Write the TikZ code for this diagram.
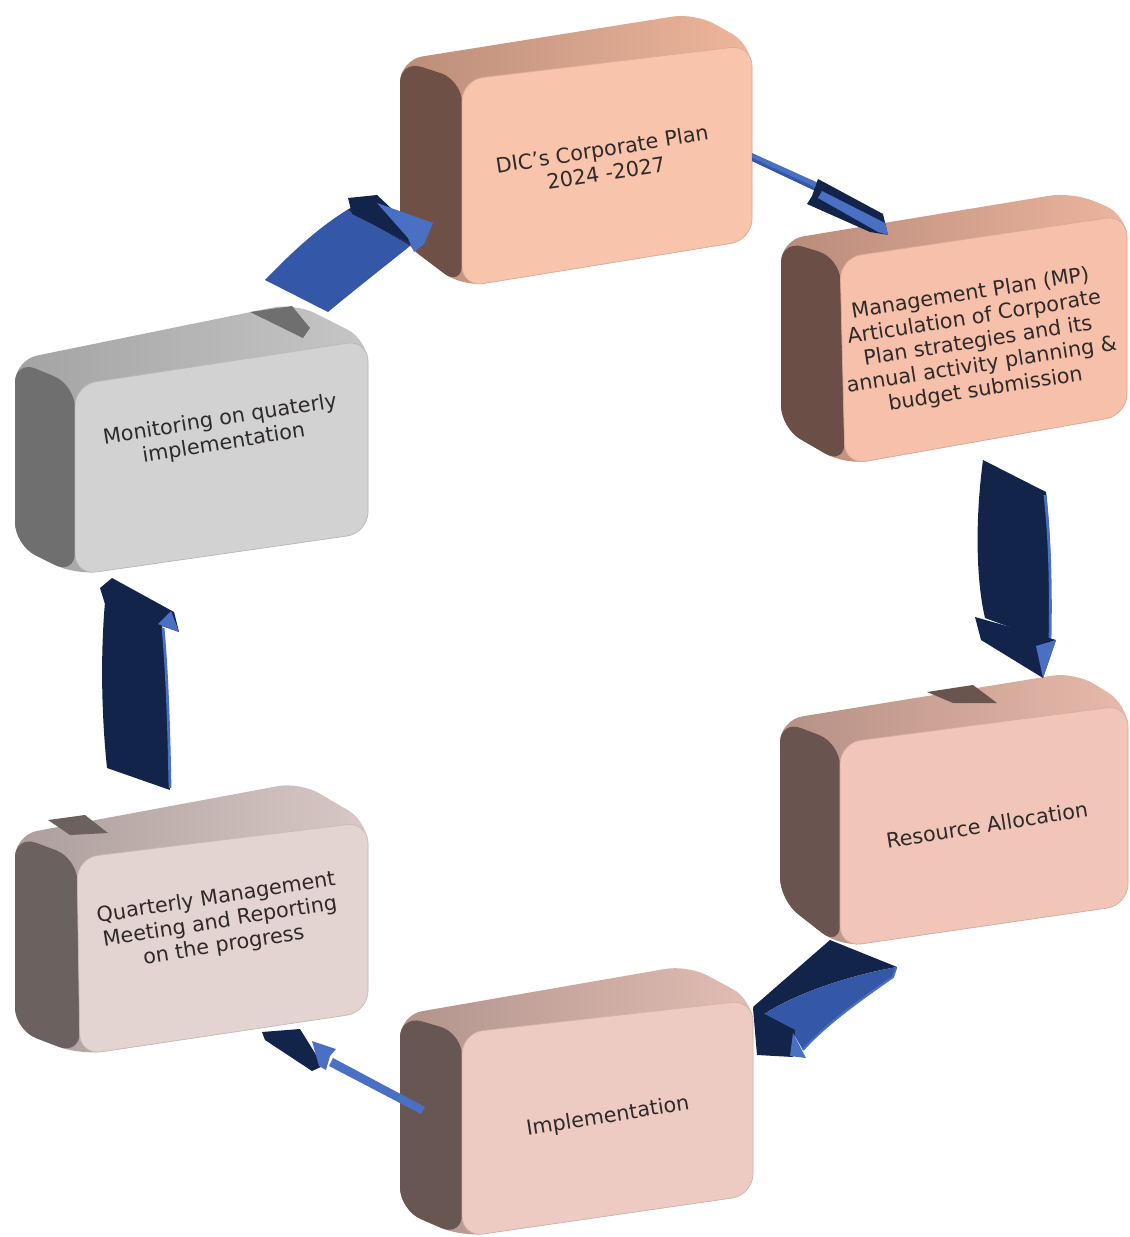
\documentclass[tikz,border=0pt]{standalone}
\usepackage{fontspec}
\setmainfont{DejaVu Sans}
\usetikzlibrary{calc}
\definecolor{navy}{HTML}{13244B}
\definecolor{midblue}{HTML}{3557A8}
\definecolor{lightblue}{HTML}{4A70C4}
\definecolor{txt}{HTML}{2E2A2A}
% box colours: front, top, side
\definecolor{corpF}{HTML}{F8C4AB}\definecolor{corpT}{HTML}{EEB69C}\definecolor{corpS}{HTML}{6E5047}
\definecolor{mpF}{HTML}{F6C0AA}\definecolor{mpT}{HTML}{ECB49E}\definecolor{mpS}{HTML}{6B4E46}
\definecolor{resF}{HTML}{F1C5B7}\definecolor{resT}{HTML}{E8B9AA}\definecolor{resS}{HTML}{6A5450}
\definecolor{impF}{HTML}{EDCBC2}\definecolor{impT}{HTML}{E2BDB3}\definecolor{impS}{HTML}{675652}
\definecolor{qrtF}{HTML}{E3D3D1}\definecolor{qrtT}{HTML}{D8C7C5}\definecolor{qrtS}{HTML}{6B6260}
\definecolor{monF}{HTML}{D2D2D2}\definecolor{monT}{HTML}{C6C6C6}\definecolor{monS}{HTML}{6F6F6F}
\newcommand\drawbox[4]{%
  \path[left color=#4!40!#3, middle color=#3, right color=#3, rounded corners=0.45cm]
    (#1btl) -- (#1btr) -- (#1ftr) -- (#1fbr) -- (#1fbl) -- (#1bbl) -- cycle;
  \fill[#4, rounded corners=0.45cm] (#1btl) -- (#1ftl) -- (#1fbl) -- (#1bbl) -- cycle;
  \fill[#2, draw=#2!88!black, line width=0.4pt, rounded corners=0.42cm]
    (#1ftl) -- (#1ftr) -- (#1fbr) -- (#1fbl) -- cycle;
}
\newcommand\defbox[8]{% name, ftl, ftr, fbr, fbl, btl, btr, bbl
  \coordinate (#1ftl) at #2; \coordinate (#1ftr) at #3;
  \coordinate (#1fbr) at #4; \coordinate (#1fbl) at #5;
  \coordinate (#1btl) at #6; \coordinate (#1btr) at #7;
  \coordinate (#1bbl) at #8;
}
\tikzset{lbl/.style={text=txt, align=center, inner sep=0pt, rotate=9,
  font=\fontsize{11.8}{13.8}\selectfont}}
\begin{document}
\begin{tikzpicture}[x=0.02cm, y=-0.02cm]
\useasboundingbox[fill=white] (0,0) rectangle (1129,1237);
\defbox{corp}{(462,80)}{(752,45)}{(752,240)}{(462,287)}{(400,60)}{(695,13)}{(400,240)}
\defbox{mp}{(840,258)}{(1127,215)}{(1127,415)}{(845,465)}{(781,240)}{(1072,192)}{(781,428)}
\defbox{res}{(840,743)}{(1128,705)}{(1128,905)}{(840,947)}{(780,720)}{(1075,672)}{(780,900)}
\defbox{imp}{(462,1033)}{(753,1000)}{(753,1195)}{(462,1237)}{(400,1015)}{(688,965)}{(400,1210)}
\defbox{qrt}{(77,858)}{(368,822)}{(368,1012)}{(80,1055)}{(15,835)}{(300,782)}{(15,1030)}
\defbox{mon}{(75,385)}{(368,340)}{(368,533)}{(75,575)}{(15,360)}{(295,303)}{(15,545)}

% arrow Resource -> Implementation (partly behind the Resource box)
\fill[navy] (830,940) -- (897,967) .. controls (850,975) and (790,995) .. (760,1017) -- (753,1007) -- cycle;
\fill[midblue] (897,967) -- (893,977) .. controls (860,1000) and (825,1025) .. (803,1050) -- (793,1033) -- (760,1017) .. controls (790,995) and (850,975) .. (897,967) -- cycle;
\draw[lightblue, line width=1.2pt] (896,968) -- (893,977) .. controls (860,1000) and (825,1025) .. (803,1050);
\fill[navy] (753,1008) -- (795,1030) -- (793,1057) -- (757,1055) -- cycle;
\fill[lightblue] (793,1033) -- (806,1058) -- (790,1056) -- cycle;

\drawbox{corp}{corpF}{corpT}{corpS}
\drawbox{mp}{mpF}{mpT}{mpS}
\drawbox{res}{resF}{resT}{resS}
\drawbox{imp}{impF}{impT}{impS}
\drawbox{qrt}{qrtF}{qrtT}{qrtS}
\drawbox{mon}{monF}{monT}{monS}

% shadows on top faces
\fill[resS] (927,692) -- (973,685) -- (997,703) -- (953,703) -- cycle;
\fill[qrtS] (48,820) -- (85,815) -- (108,833) -- (70,835) -- cycle;
\fill[monS] (250,312) -- (292,306) -- (310,328) -- (303,338) -- cycle;

% labels
\node[lbl] (tcorp) at (604,161) {DIC’s Corporate Plan\\2024 -2027};
\node[lbl] (tmp) at (978,342) {Management Plan (MP)\\Articulation of Corporate\\Plan strategies and its\\annual activity planning \&\\budget submission};
\node[lbl] (tres) at (987,825) {Resource Allocation};
\node[lbl] (timp) at (608,1117) {Implementation};
\node[lbl] (tqrt) at (220,922) {Quarterly Management\\Meeting and Reporting\\on the progress};
\node[lbl] (tmon) at (222,432) {Monitoring on quaterly\\implementation};

% arrow Monitoring -> Corporate Plan
\fill[midblue] (265,280) .. controls (292,252) and (318,228) .. (347,210) -- (410,246) .. controls (380,270) and (352,292) .. (328,312) -- cycle;
\fill[navy!70!midblue] (347,210) -- (356,205) -- (412,236) -- (410,246) -- cycle;
\fill[navy] (348,198) -- (377,195) -- (410,226) -- (408,242) -- (352,214) -- cycle;
\fill[lightblue] (377,203) -- (433,223) -- (424,244) -- (414,252) -- (408,238) -- cycle;

% arrow Corporate Plan -> Management Plan
\fill[lightblue] (752,153) -- (825,186) -- (822,194) -- (752,161) -- cycle;
\fill[midblue] (752,158) -- (823,191) -- (822,194) -- (752,161) -- cycle;
\fill[navy] (818,179) -- (883,214) -- (888,235) -- (870,232) -- (807,204) -- (812,196) -- cycle;
\fill[lightblue] (822,191) -- (885,223) -- (888,235) -- (878,232) -- (818,198) -- cycle;

% arrow Management Plan -> Resource Allocation
\fill[navy] (983,460) .. controls (975,520) and (976,580) .. (985,618) -- (1050,642) .. controls (1052,590) and (1051,540) .. (1046,492) -- cycle;
\draw[lightblue, line width=1.6pt] (1045,495) .. controls (1050,540) and (1051,590) .. (1050,640);
\fill[navy] (975,617) -- (1056,640) -- (1043,678) -- (981,640) -- cycle;
\fill[lightblue] (1036,646) -- (1056,640) -- (1043,678) -- cycle;

% arrow Implementation -> Quarterly
\fill[lightblue] (425,1107) -- (333,1058) -- (329,1066) -- (421,1114) -- cycle;
\fill[navy] (262,1032) -- (300,1029) -- (323,1066) -- (312,1071) -- (265,1040) -- cycle;
\fill[lightblue] (312,1041) -- (336,1049) -- (330,1056) -- (326,1070) -- (319,1066) -- cycle;

% arrow Quarterly -> Monitoring
\fill[navy] (105,602) .. controls (100,660) and (102,720) .. (107,768) -- (170,790) .. controls (168,730) and (166,670) .. (162,624) -- cycle;
\draw[lightblue, line width=1.6pt] (163,628) .. controls (167,670) and (169,730) .. (170,788);
\fill[navy] (100,588) -- (112,578) -- (174,612) -- (179,632) -- (162,626) -- (105,604) -- cycle;
\fill[lightblue] (158,624) -- (171,611) -- (179,632) -- (168,628) -- cycle;
\end{tikzpicture}
\end{document}
